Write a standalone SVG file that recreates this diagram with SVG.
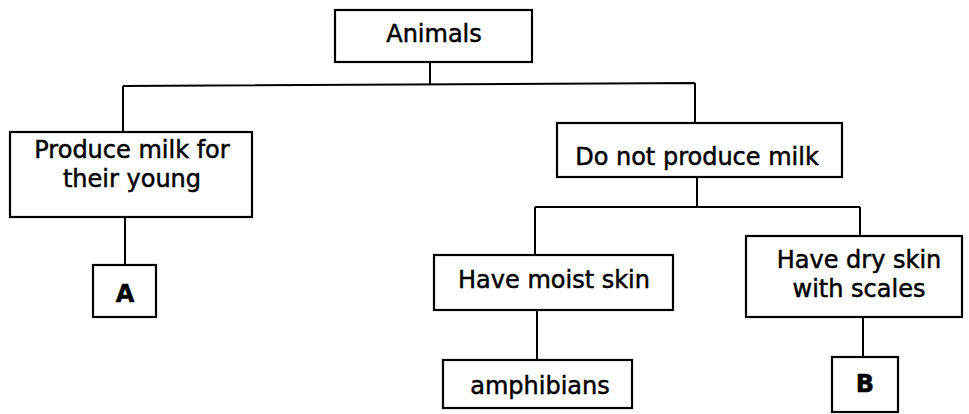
<svg xmlns="http://www.w3.org/2000/svg" width="969" height="414" viewBox="0 0 969 414">
<style>
.box{fill:#fff;stroke:#000;stroke-width:2.2}
.ln{fill:none;stroke:#000;stroke-width:2}
.t{font-family:"DejaVu Sans","Liberation Sans",sans-serif;font-size:24px;fill:#000;stroke:#000;stroke-width:0.5;text-anchor:middle}
.b{font-weight:bold}
</style>
<rect width="969" height="414" fill="#fff"/>
<g id="connectors">
<path class="ln" d="M430 62 V84 M123 86 L695 83 M123 86 V132 M695 83 V123 M125 217 V265 M697 177 V207 M535 207 H860 M535 207 V255 M860 207 V236 M537 310 V360 M863 317 V357"/>
</g>
<g id="animals"><rect class="box" x="335" y="10" width="197" height="52"/><text class="t" x="434" y="42">Animals</text></g>
<g id="produce"><rect class="box" x="10" y="132" width="242" height="85"/><text class="t" x="132" y="158">Produce milk for</text><text class="t" x="132" y="187">their young</text></g>
<g id="a"><rect class="box" x="93" y="265" width="63" height="52"/><text class="t b" x="125" y="302">A</text></g>
<g id="notmilk"><rect class="box" x="557" y="123" width="285" height="54"/><text class="t" x="697" y="165">Do not produce milk</text></g>
<g id="moist"><rect class="box" x="434" y="255" width="239" height="55"/><text class="t" x="554" y="288">Have moist skin</text></g>
<g id="dry"><rect class="box" x="746" y="236" width="216" height="81"/><text class="t" x="859" y="268">Have dry skin</text><text class="t" x="859" y="297">with scales</text></g>
<g id="amphibians"><rect class="box" x="443" y="360" width="189" height="48"/><text class="t" x="540" y="394">amphibians</text></g>
<g id="bnode"><rect class="box" x="832" y="357" width="66" height="55"/><text class="t b" x="865" y="392">B</text></g>
</svg>
